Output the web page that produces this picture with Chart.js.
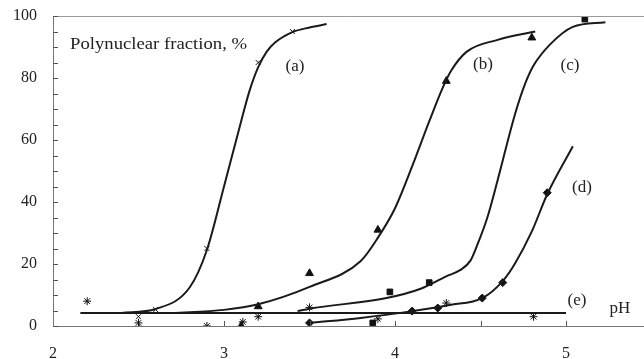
<!DOCTYPE html>
<html>
<head>
<meta charset="utf-8">
<script src="https://cdn.jsdelivr.net/npm/chart.js@4"></script>
<style>
  html, body { margin: 0; padding: 0; background: #fff; }
</style>
</head>
<body>
<canvas id="chart" width="644" height="359"></canvas>
<script>
// measured points (markers)
const phA = [2.5, 2.6, 2.9, 3.2, 3.4];
const valA = [3, 5.3, 25, 85, 95];
const phB = [3.1, 3.2, 3.5, 3.9, 4.3, 4.8];
const valB = [0, 6.3, 17, 31, 79, 93];
const phC = [3.87, 3.97, 4.2, 5.11];
const valC = [1, 11, 14, 99];
const phD = [3.5, 4.1, 4.25, 4.51, 4.63, 4.89];
const valD = [1, 4.8, 5.8, 9, 14, 43];
const phE = [2.2, 2.5, 2.9, 3.11, 3.2, 3.5, 3.9, 4.3, 4.81];
const valE = [8, 1, 0, 1.3, 3, 6, 2.3, 7.4, 3];

// fitted curves
const fitPhA = [2.4, 2.6, 2.8, 2.9, 3.0, 3.1, 3.15, 3.2, 3.25, 3.3, 3.4, 3.5, 3.6];
const fitValA = [4.2, 5.5, 12.5, 24.5, 45, 66, 76, 83.5, 88.5, 91.5, 94.8, 96.3, 97.4];
const fitPhB = [2.7, 3.0, 3.2, 3.5, 3.8, 3.9, 4.0, 4.1, 4.2, 4.28, 4.33, 4.42, 4.6, 4.82];
const fitValB = [4.2, 5.2, 7, 12.6, 21, 28.5, 38, 51.5, 66, 77, 82.5, 88.5, 92.3, 95];
const fitPhC = [3.43, 3.5, 3.95, 4.15, 4.3, 4.38, 4.44, 4.48, 4.54, 4.6, 4.7, 4.76, 4.81, 4.91, 5.04, 5.23];
const fitValC = [4.8, 5.6, 9, 12, 16, 18, 21, 26, 35, 47, 68, 78, 84, 91, 96.5, 98];
const fitPhD = [3.5, 3.8, 4.1, 4.32, 4.51, 4.63, 4.7, 4.8, 4.89, 5.04];
const fitValD = [1, 2.6, 4.8, 6.8, 9, 14.5, 20, 30.5, 42.5, 58];
const fitPhE = [2.16, 5.0];
const fitValE = [4.2, 4.2];

// axis ticks
const xTicks = [2, 2.5, 3, 3.5, 4, 4.5, 5];
const xMin = 2, xMax = 5.456;

const curveLabels = ['(a)', '(b)', '(c)', '(d)', '(e)'];
const yTitle = 'Polynuclear fraction, %';
const xTitle = 'pH';

const toXY = (xs, ys) => xs.map((x, i) => ({ x: x, y: ys[i] }));

function markerSet(xs, ys, style, radius) {
    return {
        data: toXY(xs, ys),
        showLine: false,
        pointStyle: style,
        pointRadius: radius,
        pointBackgroundColor: '#111',
        pointBorderColor: '#111',
        pointBorderWidth: 1
    };
}

function curveSet(xs, ys) {
    return {
        data: toXY(xs, ys),
        showLine: true,
        borderColor: '#1a1a1a',
        borderWidth: 2,
        pointRadius: 0,
        cubicInterpolationMode: 'monotone'
    };
}

// inner tick marks, top border and text labels
const decorPlugin = {
    id: 'decor',
    afterDraw(chart) {
        const ctx = chart.ctx;
        const area = chart.chartArea;
        const xs = chart.scales.x;
        const ys = chart.scales.y;
        ctx.save();
        ctx.strokeStyle = '#999';
        ctx.lineWidth = 1;
        ctx.beginPath();
        ctx.moveTo(area.left, area.top + 0.5);
        ctx.lineTo(area.right, area.top + 0.5);
        ctx.stroke();

        ctx.strokeStyle = '#555';
        ctx.beginPath();
        ys.ticks.forEach(t => {
            const py = Math.round(ys.getPixelForValue(t.value)) + 0.5;
            ctx.moveTo(area.left, py);
            ctx.lineTo(area.left + 5, py);
        });
        xs.ticks.forEach(t => {
            if (t.value <= xs.min) return;
            const px = Math.round(xs.getPixelForValue(t.value)) + 0.5;
            ctx.moveTo(px, area.bottom);
            ctx.lineTo(px, area.bottom - 5);
        });
        ctx.stroke();

        ctx.fillStyle = '#222';
        ctx.textBaseline = 'middle';
        ctx.textAlign = 'left';
        ctx.save();
        ctx.font = '17px "Liberation Serif"';
        ctx.translate(70, 45);
        ctx.scale(1.1, 1);
        ctx.fillText(yTitle, 0, 0);
        ctx.restore();
        ctx.font = '17px "Liberation Serif"';
        ctx.textAlign = 'center';
        const spots = [[295, 67], [483, 65], [570, 66], [582, 188], [577, 301]];
        curveLabels.forEach((s, i) => ctx.fillText(s, spots[i][0], spots[i][1]));
        ctx.fillText(xTitle, 620, 309);
        ctx.restore();
    }
};

new Chart(document.getElementById('chart'), {
    type: 'scatter',
    data: {
        datasets: [
            curveSet(fitPhE, fitValE),
            curveSet(fitPhA, fitValA),
            curveSet(fitPhB, fitValB),
            curveSet(fitPhC, fitValC),
            curveSet(fitPhD, fitValD),
            markerSet(phA, valA, 'crossRot', 3.5),
            markerSet(phB, valB, 'triangle', 4.5),
            markerSet(phC, valC, 'rect', 4),
            markerSet(phD, valD, 'rectRot', 4),
            markerSet(phE, valE, 'star', 4)
        ]
    },
    options: {
        responsive: false,
        animation: false,
        layout: { autoPadding: false, padding: { top: 16, right: 0, left: 0, bottom: 0 } },
        plugins: {
            legend: { display: false },
            tooltip: { enabled: false }
        },
        scales: {
            x: {
                type: 'linear',
                bounds: 'data',
                min: xMin,
                max: xMax,
                afterBuildTicks: s => {
                    s.ticks = xTicks.map(v => ({ value: v }));
                    s.min = xMin;
                    s.max = xMax;
                },
                afterFit: s => { s.height = 33; s.paddingLeft = 0; s.paddingRight = 0; },
                border: { display: true, color: '#777', width: 1 },
                grid: { display: true, drawOnChartArea: false, drawTicks: true, tickLength: 18, tickColor: 'rgba(0,0,0,0)' },
                ticks: {
                    padding: 0,
                    color: '#222',
                    font: { family: '"Liberation Serif"', size: 16 },
                    maxRotation: 0,
                    autoSkip: false,
                    callback: v => (Number.isInteger(v) ? String(v) : '')
                }
            },
            y: {
                min: 0,
                max: 100,
                afterFit: s => { s.width = 53; },
                border: { display: true, color: '#777', width: 1 },
                grid: { display: true, drawOnChartArea: false, drawTicks: true, tickLength: 16, tickColor: 'rgba(0,0,0,0)' },
                ticks: {
                    stepSize: 5,
                    padding: 0,
                    color: '#222',
                    font: { family: '"Liberation Serif"', size: 16 },
                    autoSkip: false,
                    callback: v => (v % 20 === 0 ? String(v) : '')
                }
            }
        }
    },
    plugins: [decorPlugin]
});
</script>
</body>
</html>
